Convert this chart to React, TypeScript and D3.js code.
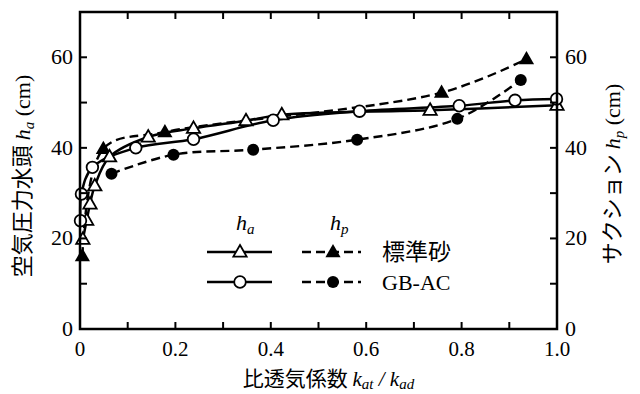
import React from 'react';
import * as d3 from 'd3';

// 標準砂 h_a (open triangle, solid)
const sandHaX = [0.006, 0.014, 0.021, 0.031, 0.062, 0.143, 0.238, 0.348, 0.423, 0.734, 1.0];
const sandHaY = [19.8, 24.0, 27.6, 31.6, 38.0, 42.4, 44.3, 46.0, 47.3, 48.3, 49.4];
// 標準砂 h_p (filled triangle, dashed)
const sandHpX = [0.005, 0.049, 0.178, 0.758, 0.936];
const sandHpY = [16.1, 39.8, 43.5, 52.2, 59.6];
// GB-AC h_a (open circle, solid)
const gbHaX = [0.001, 0.003, 0.026, 0.117, 0.238, 0.405, 0.586, 0.795, 0.912, 0.999];
const gbHaY = [23.9, 29.8, 35.7, 40.0, 41.9, 46.1, 48.1, 49.3, 50.5, 50.8];
// GB-AC h_p (filled circle, dashed)
const gbHpX = [0.066, 0.196, 0.363, 0.581, 0.791, 0.924];
const gbHpY = [34.3, 38.5, 39.6, 41.8, 46.4, 55.0];

const xTicks = [0, 0.2, 0.4, 0.6, 0.8, 1.0];
const yTicks = [0, 20, 40, 60];

const serif = '"Liberation Serif", "DejaVu Serif", serif';
const jp = '"Noto Sans CJK JP", sans-serif';

const W = 640;
const H = 394;
const left = 80, right = 557, top = 12, bottom = 329;

export default function App() {
  const x = d3.scaleLinear().domain([0, 1]).range([left, right]);
  const y = d3.scaleLinear().domain([0, 70]).range([bottom, top]);

  const line = d3
    .line<[number, number]>()
    .x((d) => x(d[0]))
    .y((d) => y(d[1]))
    .curve(d3.curveCatmullRom.alpha(0.5));

  const zip = (xs: number[], ys: number[]) => xs.map((v, i) => [v, ys[i]] as [number, number]);
  const sandHa = zip(sandHaX, sandHaY);
  const sandHp = zip(sandHpX, sandHpY);
  const gbHa = zip(gbHaX, gbHaY);
  const gbHp = zip(gbHpX, gbHpY);

  const tri = (cx: number, cy: number, s = 7) =>
    `M${cx},${cy - s} L${cx + s * 0.95},${cy + s * 0.65} L${cx - s * 0.95},${cy + s * 0.65} Z`;

  const minorX = d3.range(0, 11).map((i) => i / 10);
  const minorY = d3.range(0, 8).map((i) => i * 10);
  const dash = '9,5';

  return (
    <svg width={W} height={H} style={{ position: 'absolute', left: 0, top: 0, background: '#fff' }}>
      {/* curves */}
      <path d={line(sandHa) || ''} fill="none" stroke="#000" strokeWidth={2.5} />
      <path d={line(gbHa) || ''} fill="none" stroke="#000" strokeWidth={2.5} />
      <path d={line(sandHp) || ''} fill="none" stroke="#000" strokeWidth={2.4} strokeDasharray={dash} />
      <path d={line(gbHp) || ''} fill="none" stroke="#000" strokeWidth={2.4} strokeDasharray={dash} />

      {/* markers */}
      {gbHp.map((d, i) => (
        <circle key={'gp' + i} cx={x(d[0])} cy={y(d[1])} r={6} fill="#000" />
      ))}
      {sandHp.map((d, i) => (
        <path key={'sp' + i} d={tri(x(d[0]), y(d[1]), 8)} fill="#000" />
      ))}
      {sandHa.map((d, i) => (
        <path key={'sa' + i} d={tri(x(d[0]), y(d[1]), 7)} fill="#fff" stroke="#000" strokeWidth={1.8} />
      ))}
      {gbHa.map((d, i) => (
        <circle key={'ga' + i} cx={x(d[0])} cy={y(d[1])} r={5.8} fill="#fff" stroke="#000" strokeWidth={1.8} />
      ))}

      {/* frame */}
      <rect x={left} y={top} width={right - left} height={bottom - top} fill="none" stroke="#000" strokeWidth={2.5} />
      {minorX.map((t) => (
        <g key={'tx' + t}>
          <line x1={x(t)} x2={x(t)} y1={bottom} y2={bottom - 7} stroke="#000" strokeWidth={2} />
          <line x1={x(t)} x2={x(t)} y1={top} y2={top + 7} stroke="#000" strokeWidth={2} />
        </g>
      ))}
      {minorY.map((t) => (
        <g key={'ty' + t}>
          <line x1={left} x2={left + 7} y1={y(t)} y2={y(t)} stroke="#000" strokeWidth={2} />
          <line x1={right} x2={right - 7} y1={y(t)} y2={y(t)} stroke="#000" strokeWidth={2} />
        </g>
      ))}

      {/* tick labels */}
      {xTicks.map((t) => (
        <text key={'xl' + t} x={x(t)} y={356} textAnchor="middle" fontFamily={serif} fontSize={21}>
          {t === 0 ? '0' : t.toFixed(1)}
        </text>
      ))}
      {yTicks.map((t) => (
        <text key={'yl' + t} x={left - 7} y={y(t) + 7} textAnchor="end" fontFamily={serif} fontSize={22}>
          {t}
        </text>
      ))}
      {yTicks.map((t) => (
        <text key={'yr' + t} x={right + 8} y={y(t) + 7} textAnchor="start" fontFamily={serif} fontSize={22}>
          {t}
        </text>
      ))}

      {/* axis titles */}
      <text x={left + (right - left) / 2 + 10} y={386} textAnchor="middle" fontSize={21}>
        <tspan fontFamily={jp}>比透気係数 </tspan>
        <tspan fontFamily={serif} fontStyle="italic">k</tspan>
        <tspan fontFamily={serif} fontStyle="italic" fontSize={15} dy={3}>at</tspan>
        <tspan fontFamily={serif} fontStyle="italic" dy={-3}> / k</tspan>
        <tspan fontFamily={serif} fontStyle="italic" fontSize={15} dy={3}>ad</tspan>
      </text>
      <text transform={`translate(30,176) rotate(-90)`} textAnchor="middle" fontSize={22}>
        <tspan fontFamily={jp}>空気圧力水頭 </tspan>
        <tspan fontFamily={serif} fontStyle="italic">h</tspan>
        <tspan fontFamily={serif} fontStyle="italic" fontSize={15} dy={4}>a</tspan>
        <tspan fontFamily={serif} dy={-4}>  (cm)</tspan>
      </text>
      <text transform={`translate(620,174) rotate(-90)`} textAnchor="middle" fontSize={22}>
        <tspan fontFamily={jp}>サクション </tspan>
        <tspan fontFamily={serif} fontStyle="italic">h</tspan>
        <tspan fontFamily={serif} fontStyle="italic" fontSize={15} dy={4}>p</tspan>
        <tspan fontFamily={serif} dy={-4}>  (cm)</tspan>
      </text>

      {/* legend */}
      <text x={236} y={230} fontFamily={serif} fontStyle="italic" fontSize={22}>
        h<tspan fontSize={15} dy={4}>a</tspan>
      </text>
      <text x={330} y={230} fontFamily={serif} fontStyle="italic" fontSize={22}>
        h<tspan fontSize={15} dy={4}>p</tspan>
      </text>
      <line x1={207} x2={272} y1={252} y2={252} stroke="#000" strokeWidth={2.5} />
      <path d={tri(240, 252, 7)} fill="#fff" stroke="#000" strokeWidth={1.8} />
      <line x1={302} x2={361} y1={252} y2={252} stroke="#000" strokeWidth={2.4} strokeDasharray={dash} />
      <path d={tri(333, 252, 8)} fill="#000" />
      <text x={382} y={260} fontFamily={jp} fontSize={23}>標準砂</text>

      <line x1={207} x2={272} y1={282} y2={282} stroke="#000" strokeWidth={2.5} />
      <circle cx={240} cy={282} r={5.8} fill="#fff" stroke="#000" strokeWidth={1.8} />
      <line x1={302} x2={361} y1={282} y2={282} stroke="#000" strokeWidth={2.4} strokeDasharray={dash} />
      <circle cx={333} cy={282} r={6} fill="#000" />
      <text x={382} y={290} fontFamily={serif} fontSize={22}>GB-AC</text>
    </svg>
  );
}
